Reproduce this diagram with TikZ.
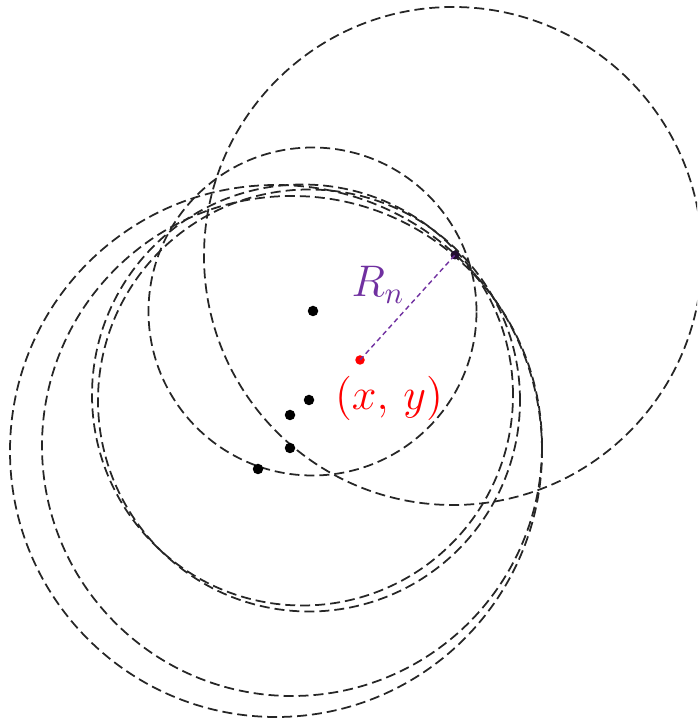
\documentclass[tikz,border=0pt]{standalone}
\usepackage{amsmath,amsfonts,amssymb}
\usepackage{tikz}
\definecolor{rnpurple}{RGB}{112,48,160}

\begin{document}
\begin{tikzpicture}[x=0.02cm,y=0.02cm,
    ring/.style={black!85,line width=1pt,dash pattern=on 2mm off 1mm},
    dot/.style={circle,fill=black,inner sep=0pt,minimum size=2.1mm},
    radline/.style={rnpurple,line width=0.8pt,dash pattern=on 1mm off 0.7mm},
    lbl/.style={font=\Large,scale=1.75,inner sep=0pt}]
      \useasboundingbox (0,0) rectangle (697,723);
      \clip (0,0) rectangle (697,723);
      \foreach \cx/\cy/\r in {453/467/249, 312.5/411.5/164, 302.5/328/210.5,
                              309/322.5/211, 276/272/266, 292/277/250}{
        \draw[ring] (\cx,\cy) circle (\r);
      }
      \foreach \px/\py [count=\i] in {313/412, 309/323, 290/308, 290/275, 258/254}{
        \node[dot] (p\i) at (\px,\py) {};
      }
      \node[dot,minimum size=1.8mm,fill=black!70!rnpurple] (pn) at (455,468) {};
      \node[dot,minimum size=1.9mm,fill=red] (xy) at (360,363) {};
      \draw[radline] (xy.center) -- (pn.center);
      \node[lbl,text=rnpurple] (rn) at (378,438) {$R_n$};
      \node[lbl,text=red] (xylbl) at (389,325) {$(x,\,y)$};
    \end{tikzpicture}
\end{document}
